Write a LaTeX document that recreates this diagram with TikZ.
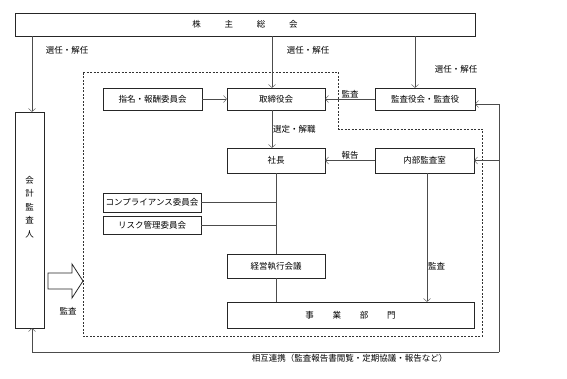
\documentclass[tikz,border=0pt]{standalone}
\usepackage{fontspec}
\newfontfamily\jp{Noto Sans CJK JP}
\usetikzlibrary{arrows.meta}
\tikzset{
  box/.style={draw=black!85, inner sep=0pt, font=\jp\fontsize{8.5}{10}\selectfont},
  link/.style={draw=black!70, -{Straight Barb[length=3pt,width=7pt]}},
  bare/.style={draw=black!70},
  tag/.style={inner sep=1pt, font=\jp\fontsize{8.5}{10}\selectfont}
}

\begin{document}
\begin{tikzpicture}[x=1pt,y=-1pt]
  \useasboundingbox (0,0) rectangle (567,379);
  \node[box, minimum width=460pt, minimum height=23pt] (agm) at (245,24.5) {株\hspace{2.8em}主\hspace{2.8em}総\hspace{2.8em}会};
  \node[box, minimum width=29pt, minimum height=216pt,
        label={[tag, yshift=13pt, align=center, font=\jp\fontsize{8.5}{13.5}\selectfont]center:会\\計\\監\\査\\人}] (auditor) at (29.5,220) {};
  \draw[black!80, dash pattern=on 2pt off 1.5pt] (83,72) -- (338,72) -- (338,129) -- (482,129) -- (482,336) -- (83,336) -- cycle;
  \node[box, minimum width=99pt, minimum height=22pt] (nomination) at (152.5,99) {指名・報酬委員会};
  \node[box, minimum width=98pt, minimum height=22pt] (board) at (276,99) {取締役会};
  \node[box, minimum width=100pt, minimum height=22pt] (kansayaku) at (425,99) {監査役会・監査役};
  \node[box, minimum width=98pt, minimum height=25pt] (president) at (276,160.5) {社長};
  \node[box, minimum width=99pt, minimum height=25pt] (internal) at (424.5,160.5) {内部監査室};
  \node[box, minimum width=98pt, minimum height=19pt] (compliance) at (152,202.5) {コンプライアンス委員会};
  \node[box, minimum width=98pt, minimum height=18pt] (risk) at (152,225) {リスク管理委員会};
  \node[box, minimum width=98pt, minimum height=24pt] (executive) at (276,266) {経営執行会議};
  \node[box, minimum width=247pt, minimum height=26pt] (business) at (350.5,315) {事\hspace{2.2em}業\hspace{2.2em}部\hspace{2.2em}門};
  \coordinate (boardin) at ([xshift=-4pt]board.north);
  \coordinate (kanin) at ([xshift=-10pt]kansayaku.north);
  \coordinate (kanright) at ([yshift=-5pt]kansayaku.east);
  \coordinate (loopr) at (499,352);
  \coordinate (loopl) at (32,352);
  \draw[link] (agm.south -| loopl) -- (loopl |- auditor.north);
  \draw[link] (agm.south -| boardin) -- (boardin);
  \draw[link] (agm.south -| kanin) -- (kanin);
  \node[tag] (elect1) at (67,50) {選任・解任};
  \node[tag] (elect2) at (308,50) {選任・解任};
  \node[tag] (elect3) at (456,69) {選任・解任};
  \draw[link] (nomination.east) -- (board.west);
  \draw[link] (kansayaku.west) -- node[tag, above] (audit1) {監査} (board.east);
  \draw[link] ([xshift=-4pt]board.south) -- node[tag, right] (appoint) {選定・解職} ([xshift=-4pt]president.north);
  \draw[link] (internal.west) -- node[tag, above] (report) {報告} (president.east);
  \draw[bare] (president.south) -- (executive.north);
  \draw[bare] (compliance.east) -- (compliance.east -| president.south);
  \draw[bare] (risk.east) -- (risk.east -| president.south);
  \draw[bare] (executive.south) -- (executive.south |- business.north);
  \draw[link] ([xshift=2.5pt]internal.south) -- node[tag, right, pos=.72] (audit2) {監査} ([xshift=2.5pt]internal.south |- business.north);
  \draw[link] (loopr) -- node[tag, below, pos=.32, yshift=-1pt] (mutual) {相互連携（監査報告書閲覧・定期協議・報告など）} (loopl) -- (loopl |- auditor.south);
  \draw[link] (loopr) -- (loopr |- kanright) -- (kanright);
  \draw[link] (loopr |- internal.east) -- (internal.east);
  \draw[black!85, thick] (48,273) -- (72,273) -- (72,264) -- (83,281) -- (72,298) -- (72,289) -- (48,289) -- cycle;
  \node[tag] (audit3) at (68,311) {監査};
\end{tikzpicture}
\end{document}
